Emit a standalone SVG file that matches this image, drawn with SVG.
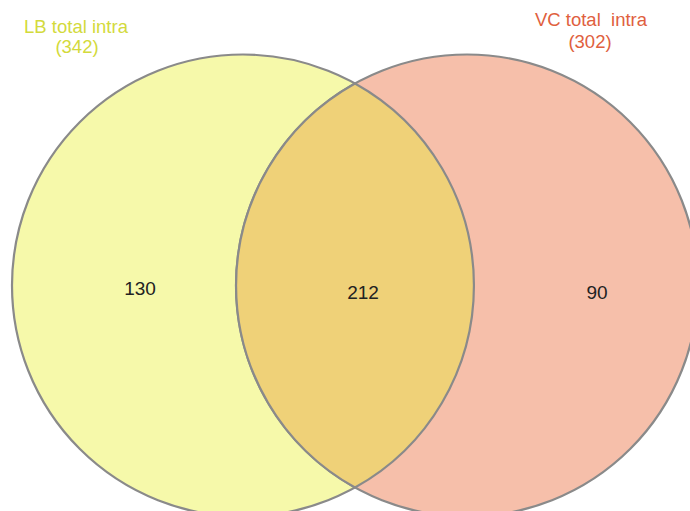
<svg xmlns="http://www.w3.org/2000/svg" width="690" height="511" viewBox="0 0 690 511">
<style>
.c{stroke:#8a8a8a;stroke-width:2.2}
.lbl{font-family:"Liberation Sans",Arial,sans-serif;font-size:18.5px;text-anchor:middle}
.num{font-family:"Liberation Sans",Arial,sans-serif;font-size:19px;text-anchor:middle;fill:#222}
</style>
<rect width="690" height="511" fill="#ffffff"/>
<g id="set-lb">
<circle class="c" cx="243" cy="285.5" r="231" fill="#f6f9aa"/>
</g>
<g id="set-vc">
<circle class="c" cx="467" cy="285.5" r="231" fill="#f6bfaa"/>
</g>
<g id="overlap">
<path class="c" d="M355 83.5 A231 231 0 0 1 355 487.5 A231 231 0 0 1 355 83.5 Z" fill="#efd178"/>
</g>
<g id="labels">
<text class="lbl" x="76" y="33" fill="#d3da3c">LB total intra</text>
<text class="lbl" x="77" y="53" fill="#d3da3c">(342)</text>
<text class="lbl" x="591" y="26" fill="#e0603e" xml:space="preserve">VC total  intra</text>
<text class="lbl" x="590" y="48" fill="#e0603e">(302)</text>
<text class="num" x="140" y="295">130</text>
<text class="num" x="363" y="298.5">212</text>
<text class="num" x="597" y="298.5">90</text>
</g>
</svg>
